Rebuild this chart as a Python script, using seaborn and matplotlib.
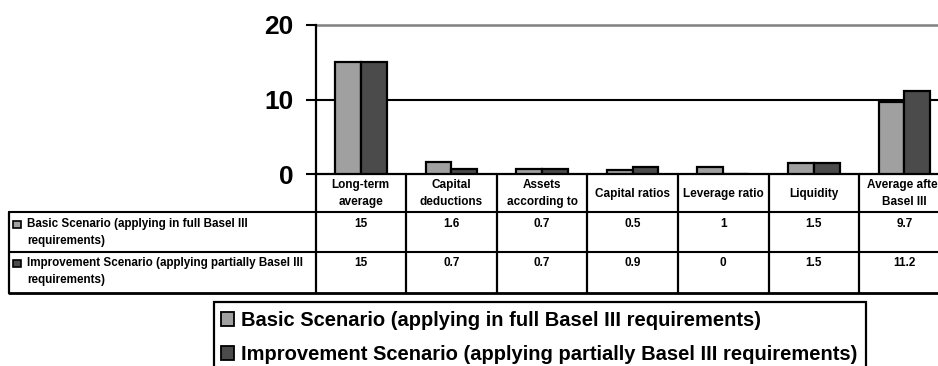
import pandas as pd
import numpy as np
import matplotlib.pyplot as plt
import matplotlib.transforms as mtransforms
from matplotlib.lines import Line2D
from matplotlib.patches import Patch, Rectangle
import seaborn as sns

categorias = ['Long-term\naverage', 'Capital\ndeductions', 'Assets\naccording to',
              'Capital ratios', 'Leverage ratio', 'Liquidity', 'Average after\nBasel III']
cenarios = ['Basic Scenario (applying in full Basel III requirements)',
            'Improvement Scenario (applying partially Basel III requirements)']
rotulos_linhas = ['Basic Scenario (applying in full Basel III\nrequirements)',
                  'Improvement Scenario (applying partially Basel III\nrequirements)']
basic = [15, 1.6, 0.7, 0.5, 1, 1.5, 9.7]
improvement = [15, 0.7, 0.7, 0.9, 0, 1.5, 11.2]
valores_txt = [['15', '1.6', '0.7', '0.5', '1', '1.5', '9.7'],
               ['15', '0.7', '0.7', '0.9', '0', '1.5', '11.2']]
cores = ['#a0a0a0', '#4b4b4b']

dados = pd.DataFrame({
    'categoria': categorias * 2,
    'valor': basic + improvement,
    'cenario': [cenarios[0]] * 7 + [cenarios[1]] * 7,
})

sns.set_style('white')
plt.rcParams['font.family'] = ['Liberation Sans', 'DejaVu Sans']
plt.rcParams['font.weight'] = 'bold'
plt.rcParams['text.color'] = 'black'
plt.rcParams['ytick.color'] = 'black'
plt.rcParams['ytick.labelcolor'] = 'black'

W, H = 938, 366
fx = lambda px: px / W
fy = lambda py: 1 - py / H

fig = plt.figure(figsize=(9.38, 3.66), dpi=100)
ax = fig.add_axes([fx(315.5), fy(174), 634.2 / W, 149 / H])

sns.barplot(data=dados, x='categoria', y='valor', hue='cenario', palette=cores,
            width=0.57, edgecolor='black', linewidth=1.6, ax=ax, legend=False,
            errorbar=None, zorder=3)

ax.set_xlim(-0.5, 6.5)
ax.set_ylim(0, 20)
ax.set_yticks([0, 10, 20])
ax.set_yticklabels(['0', '10', '20'], fontsize=19, fontweight='bold', color='black')
ax.axhline(10, color='black', lw=1.5, zorder=1)
ax.axhline(20, color='#808080', lw=1.8, zorder=1, clip_on=False)
ax.tick_params(axis='y', direction='out', length=7, width=1.5, pad=9, left=True)
ax.tick_params(axis='x', length=0, labelbottom=False)
ax.set_xlabel('')
ax.set_ylabel('')
for s in ['top', 'right']:
    ax.spines[s].set_visible(False)
for s in ['left', 'bottom']:
    ax.spines[s].set_color('black')
    ax.spines[s].set_linewidth(1.6)

# Tabela de dados abaixo do eixo
trans = mtransforms.blended_transform_factory(ax.transData, fig.transFigure)
for k in range(8):
    b = k - 0.5
    fig.add_artist(Line2D([b, b], [fy(174), fy(293)], transform=trans, color='black', lw=1.6))
for py, lw in [(212, 1.5), (252, 1.5), (293, 2)]:
    fig.add_artist(Line2D([fx(9), 1.05], [fy(py), fy(py)], transform=fig.transFigure,
                          color='black', lw=lw))
fig.add_artist(Line2D([fx(9), fx(9)], [fy(212), fy(293)], transform=fig.transFigure,
                      color='black', lw=1.6))

for i, cat in enumerate(categorias):
    ax.text(i, fy(193.5), cat, transform=trans, ha='center', va='center',
            fontsize=8.5, fontweight='bold', linespacing=1.45)

for r, (rot, linha_y) in enumerate(zip(rotulos_linhas, [224, 263])):
    fig.text(fx(27), fy(linha_y + 8.5), rot, ha='left', va='center', fontsize=8.4,
             fontweight='bold', linespacing=1.45)
    fig.add_artist(Rectangle((fx(13), fy(linha_y + 3.5)), fx(8), 7 / H,
                             transform=fig.transFigure, facecolor=cores[r],
                             edgecolor='black', lw=1.2))
    for i, v in enumerate(valores_txt[r]):
        ax.text(i, fy(linha_y), v, transform=trans, ha='center', va='center',
                fontsize=8.5, fontweight='bold')

# Legenda
handles = [Patch(facecolor=c, edgecolor='black', lw=1.3) for c in cores]
fig.legend(handles, cenarios, loc='upper left', bbox_to_anchor=(fx(221), fy(311)),
           frameon=False, handlelength=0.65, handleheight=0.65,
           handletextpad=0.35, labelspacing=0.75, borderpad=0, borderaxespad=0,
           prop={'weight': 'bold', 'size': 14.5})
fig.add_artist(Rectangle((fx(214), fy(420)), fx(866 - 214), 118 / H,
                         transform=fig.transFigure, fill=False, edgecolor='black', lw=1.6))

plt.savefig('out.png', dpi=100)
